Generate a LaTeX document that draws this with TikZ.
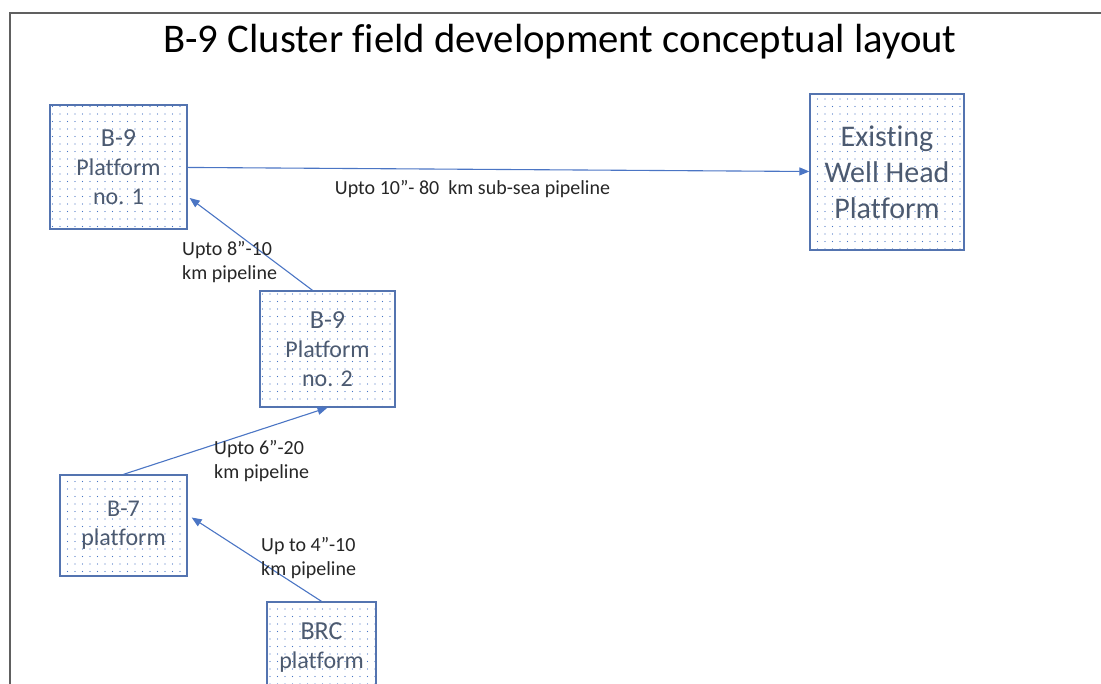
\documentclass[tikz,border=0pt]{standalone}
\usepackage{fontspec}
\setmainfont{Carlito}[Ligatures=CommonOff]
\usepackage{tikz}
\usetikzlibrary{positioning,arrows.meta,patterns.meta}
\definecolor{boxrule}{RGB}{84,116,176}
\definecolor{dotblue}{RGB}{68,114,196}
\definecolor{pipeblue}{RGB}{75,117,196}
\definecolor{boxtext}{RGB}{76,90,112}
\definecolor{framegray}{RGB}{96,96,96}
\tikzset{
  platform/.style={rectangle,draw=boxrule,line width=1.3pt,align=center,inner sep=0pt,pattern={Dots[distance=7.5pt,radius=0.6pt]},pattern color=dotblue,text=boxtext,font=\fontsize{24}{29}\selectfont},
  pipe/.style={-{Triangle[length=10pt,width=8pt]},draw=pipeblue,line width=1.1pt},
  pipelabel/.style={align=left,inner sep=0pt,text=black!85,font=\fontsize{20}{24}\selectfont}
}

\begin{document}
\begin{tikzpicture}[x=1pt,y=-1pt]
  \useasboundingbox (0,0) rectangle (1101,684);
  \draw[framegray,line width=2pt] (10,720) -- (10,13) -- (1130,13);

  \node[font=\fontsize{40.7}{48}\selectfont] (title) at (560,42) {B-9 Cluster field development conceptual layout};

  \node[platform,minimum width=137pt,minimum height=124pt] (p1) at (118.5,167) {{\fontsize{26}{29}\selectfont B-9}\\Platform\\no. 1};
  \node[platform,font=\fontsize{30}{36}\selectfont,minimum width=154pt,minimum height=156pt] (whp) at (887,172) {Existing\\Well Head\\Platform};
  \node[platform,minimum width=135pt,minimum height=116pt] (p2) at (327.5,349) {{\fontsize{26}{29}\selectfont B-9}\\Platform\\no. 2};
  \node[platform,minimum width=127pt,minimum height=101pt] (b7) at (123.5,525.5) {B-7\\platform};
  \node[platform,minimum width=109pt,minimum height=90pt] (brc) at (321.5,647) {{\fontsize{26}{29}\selectfont BRC}\\platform};

  \draw[pipe] (p1) -- (whp);
  \draw[pipe] ([xshift=-15pt]p2.north) -- ([xshift=2pt,yshift=-31pt]p1.east);
  \draw[pipe] (b7.north) -- (p2.south);
  \draw[pipe] (brc.north) -- ([xshift=4pt,yshift=8pt]b7.east);

  \node[pipelabel] (l80) at (472.5,189) {Upto 10”- 80\ \ km sub-sea pipeline};
  \node[pipelabel,anchor=west] (l10) at (182,262) {Upto 8”-10\\km pipeline};
  \node[pipelabel,anchor=west] (l20) at (214,461) {Upto 6”-20\\km pipeline};
  \node[pipelabel,anchor=west] (l4) at (261,558) {Up to 4”-10\\km pipeline};
\end{tikzpicture}
\end{document}
